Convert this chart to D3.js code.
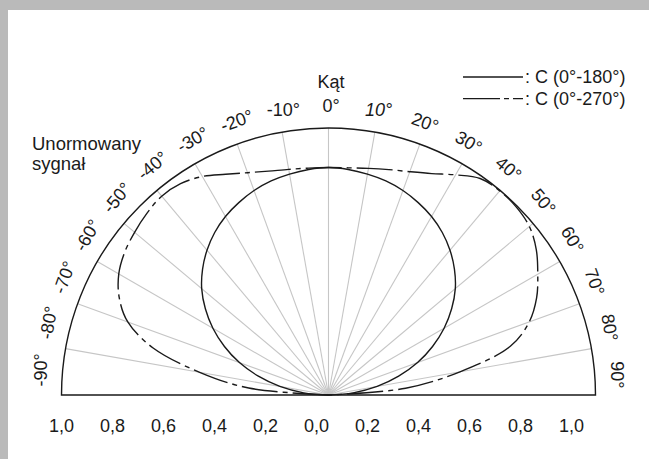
<!DOCTYPE html>
<html>
<head>
<meta charset="utf-8">
<script src="https://cdn.jsdelivr.net/npm/d3@7"></script>
<style>
body { margin: 0; background: #bababa; }
svg { display: block; font-family: "Liberation Sans", Arial, sans-serif; }
</style>
</head>
<body>
<svg id="chart" width="649" height="459"></svg>
<script>
// katy pomiaru co 5 stopni (-90 .. 90)
var angles = [-90,-85,-80,-75,-70,-65,-60,-55,-50,-45,-40,-35,-30,-25,-20,-15,-10,-5,0,
              5,10,15,20,25,30,35,40,45,50,55,60,65,70,75,80,85,90];

// C (0°-180°) - linia ciagla
var signalC180 = [0,0.093,0.185,0.272,0.355,0.43,0.50,0.563,0.62,0.667,0.708,0.743,0.772,0.795,0.815,0.83,0.84,0.848,0.852,
                  0.848,0.84,0.83,0.815,0.795,0.772,0.743,0.708,0.667,0.62,0.563,0.50,0.43,0.355,0.272,0.185,0.093,0];

// C (0°-270°) - linia kreska-kropka
var signalC270 = [0,0.30,0.49,0.68,0.80,0.865,0.907,0.932,0.948,0.962,0.972,0.966,0.945,0.912,0.886,0.868,0.858,0.853,0.852,
                  0.854,0.862,0.874,0.89,0.915,0.952,0.99,0.998,0.995,0.982,0.95,0.905,0.86,0.80,0.705,0.50,0.29,0];

var spokeAngles = [-80,-70,-60,-50,-40,-30,-20,-10,0,10,20,30,40,50,60,70,80];
var angleTicks = [-90,-80,-70,-60,-50,-40,-30,-20,-10,0,10,20,30,40,50,60,70,80,90];
var xTicks = [-1,-0.8,-0.6,-0.4,-0.2,0,0.2,0.4,0.6,0.8,1];

var seriesNames = [": C (0°-180°)", ": C (0°-270°)"];

var svg = d3.select("#chart");

// biale tlo (szara ramka u gory i z lewej)
svg.append("rect")
    .attr("x", 8).attr("y", 10)
    .attr("width", 649 - 8).attr("height", 459 - 10)
    .attr("fill", "#fff");

var cx = 328.5, cy = 395, R = 267;
var r = d3.scaleLinear().domain([0, 1]).range([0, R]);
var rad = function (a) { return a * Math.PI / 180; };

var g = svg.append("g").attr("transform", "translate(" + cx + "," + cy + ")");

// szprychy
g.selectAll(".spoke")
    .data(spokeAngles)
    .enter().append("line")
    .attr("class", "spoke")
    .attr("x1", 0).attr("y1", 0)
    .attr("x2", function (d) { return r(1) * Math.sin(rad(d)); })
    .attr("y2", function (d) { return -r(1) * Math.cos(rad(d)); })
    .attr("stroke", "#c6c6c6")
    .attr("stroke-width", 1.1);

// polkole
var frame = d3.arc()
    .innerRadius(0).outerRadius(r(1))
    .startAngle(-Math.PI / 2).endAngle(Math.PI / 2);

g.append("path")
    .attr("d", frame())
    .attr("fill", "none")
    .attr("stroke", "#1a1a1a")
    .attr("stroke-width", 1.4);

var line = d3.lineRadial()
    .angle(function (d, i) { return rad(angles[i]); })
    .radius(function (d) { return r(d); })
    .curve(d3.curveCatmullRom);

g.append("path")
    .attr("d", line(signalC180))
    .attr("fill", "none")
    .attr("stroke", "#1a1a1a")
    .attr("stroke-width", 1.4);

g.append("path")
    .attr("d", line(signalC270))
    .attr("fill", "none")
    .attr("stroke", "#1a1a1a")
    .attr("stroke-width", 1.4)
    .attr("stroke-dasharray", "36,5,5,5");

// opisy katow
var labelAngle = d3.scaleLinear().domain([-90, 90]).range([-85, 86]);
var labelR = 289;

g.selectAll(".alabel")
    .data(angleTicks)
    .enter().append("text")
    .attr("class", "alabel")
    .attr("font-size", 18)
    .attr("fill", "#1a1a1a")
    .attr("text-anchor", "middle")
    .attr("dominant-baseline", "central")
    .attr("font-style", function (d) { return d == 10 ? "italic" : null; })
    .attr("transform", function (d) {
        var a = rad(labelAngle(d));
        var rot = Math.abs(d) >= 20 ? d : 0;
        return "translate(" + (labelR * Math.sin(a)) + "," + (-labelR * Math.cos(a)) + ") rotate(" + rot + ")";
    })
    .text(function (d) { return d + "°"; });

// os dolna
var x = d3.scaleLinear().domain([-1, 1]).range([61, 571]);
var xAxis = d3.axisBottom(x)
    .tickValues(xTicks)
    .tickSize(0)
    .tickPadding(0)
    .tickFormat(function (d) { return d3.format(".1f")(Math.abs(d)).replace(".", ","); });

var ax = svg.append("g")
    .attr("transform", "translate(0,419)")
    .call(xAxis);
ax.select(".domain").remove();
ax.selectAll("text")
    .attr("font-size", 18)
    .attr("font-family", "Liberation Sans, Arial, sans-serif")
    .attr("fill", "#1a1a1a");

// tytuly
svg.append("text")
    .attr("x", 331).attr("y", 88)
    .attr("text-anchor", "middle")
    .attr("font-size", 18)
    .attr("fill", "#1a1a1a")
    .text("Kąt");

svg.append("text")
    .attr("x", 32).attr("y", 150)
    .attr("font-size", 18.5)
    .attr("fill", "#1a1a1a")
    .text("Unormowany");
svg.append("text")
    .attr("x", 32).attr("y", 170)
    .attr("font-size", 18.5)
    .attr("fill", "#1a1a1a")
    .text("sygnał");

// legenda
var legend = svg.append("g").attr("transform", "translate(463,77)");
var dashes = [null, "37,4,5,4"];
seriesNames.forEach(function (name, i) {
    var row = legend.append("g").attr("transform", "translate(0," + (i * 21.6) + ")");
    row.append("line")
        .attr("x1", 0).attr("x2", 60)
        .attr("y1", 0).attr("y2", 0)
        .attr("stroke", "#1a1a1a")
        .attr("stroke-width", 1.3)
        .attr("stroke-dasharray", dashes[i]);
    row.append("text")
        .attr("x", 62).attr("y", 6.4)
        .attr("font-size", 18)
        .attr("fill", "#1a1a1a")
        .text(name);
});
</script>
</body>
</html>
